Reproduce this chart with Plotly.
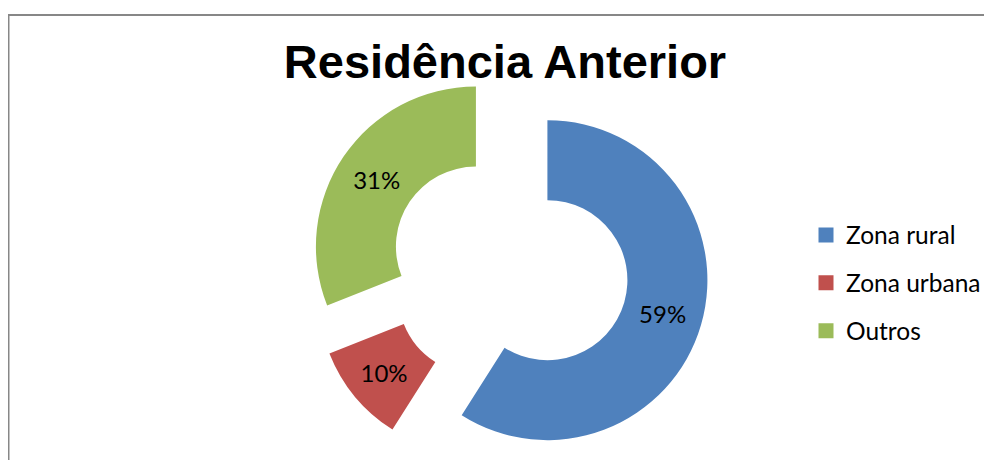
import math
import plotly.graph_objects as go

# ---- data ----
categories = ["Zona rural", "Zona urbana", "Outros"]
values = [59, 10, 31]
colors = ["#4F81BD", "#C0504D", "#9BBB59"]
title_text = "Residência Anterior"

# ---- layout constants (styles) ----
OFF = 8                    # page body margin in the viewer
W, H = 992 - OFF, 460 - OFF
R = 160                    # outer radius in px
HOLE = 0.5
PULL = 0.25                # explode fraction of radius
CX, CY = 509 - OFF, 269 - OFF  # base pie centre (px, figure coords)

total = sum(values)
labels_txt = [f"{round(v / total * 100)}%" for v in values]

fig = go.Figure()

cum = 0.0
for k, (cat, v) in enumerate(zip(categories, values)):
    mid = (cum + v / 2) / total * 2 * math.pi
    cum += v
    cx = CX + PULL * R * math.sin(mid)
    cy = CY - PULL * R * math.cos(mid)
    dom_x = [(cx - R) / W, (cx + R) / W]
    dom_y = [1 - (cy + R) / H, 1 - (cy - R) / H]
    mcolors = [colors[j] if j == k else "rgba(0,0,0,0)" for j in range(len(values))]
    texts = [labels_txt[j] if j == k else "" for j in range(len(values))]
    fig.add_trace(go.Pie(
        labels=categories,
        values=values,
        sort=False,
        direction="clockwise",
        rotation=0,
        hole=HOLE,
        marker=dict(colors=mcolors, line=dict(width=0)),
        text=texts,
        textinfo="text",
        textposition="inside",
        insidetextorientation="horizontal",
        insidetextfont=dict(family="Lato", size=24, color="#000000"),
        domain=dict(x=dom_x, y=dom_y),
        showlegend=False,
        hoverinfo="skip",
    ))

# legend entries (library legend)
for cat, col in zip(categories, colors):
    fig.add_trace(go.Scatter(
        x=[None], y=[None], mode="markers", name=cat,
        legendgroup=cat,
        marker=dict(symbol="square", size=15, color=col),
        hoverinfo="skip",
    ))

fig.update_layout(
    width=W, height=H,
    margin=dict(l=0, r=0, t=0, b=0),
    paper_bgcolor="white", plot_bgcolor="white",
    xaxis=dict(visible=False), yaxis=dict(visible=False),
    title=dict(
        text=title_text,
        font=dict(family="Liberation Sans", size=47, color="#000000", weight="bold"),
        x=(505 - OFF) / W, xanchor="center", xref="paper",
        y=1 - (45 - OFF) / H, yanchor="top", yref="container",
    ),
    legend=dict(
        x=(806 - OFF) / W, xanchor="left",
        y=1 - (283 - OFF) / H, yanchor="middle",
        font=dict(family="Lato", size=24.5, color="#000000"),
        tracegroupgap=13,
        bgcolor="rgba(0,0,0,0)",
    ),
    shapes=[dict(
        type="rect", xref="paper", yref="paper",
        x0=0.5 / W, x1=1.05, y0=-0.05, y1=1 - 7 / H,
        line=dict(color="#878787", width=2), fillcolor="rgba(0,0,0,0)",
        layer="below",
    )],
)

fig.write_html("out.html", config={"displayModeBar": False})
